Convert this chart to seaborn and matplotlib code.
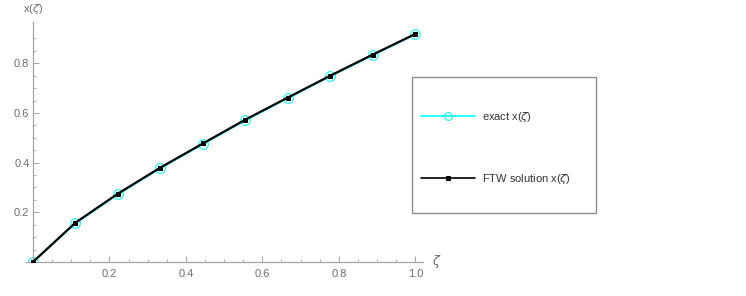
import matplotlib.pyplot as plt
import matplotlib.patches as mpatches
import numpy as np
import pandas as pd
import seaborn as sns

# values
zeta = [0.0, 1 / 9, 2 / 9, 3 / 9, 4 / 9, 5 / 9, 6 / 9, 7 / 9, 8 / 9, 1.0]
x_exact = [0.0, 0.155, 0.272, 0.377, 0.474, 0.570, 0.659, 0.748, 0.832, 0.916]
x_ftw = [0.0, 0.158, 0.275, 0.380, 0.477, 0.573, 0.662, 0.750, 0.835, 0.918]
x_ticks = [0.2, 0.4, 0.6, 0.8, 1.0]
y_ticks = [0.2, 0.4, 0.6, 0.8]

axis_grey = "#a6a6a6"
text_grey = "#6e6e6e"

sns.set_style("white")
plt.rcParams["font.family"] = ["Liberation Sans", "DejaVu Sans"]

fig = plt.figure(figsize=(7.46, 2.96), dpi=100)
ax = fig.add_axes([33 / 746 - 7 / 746, (296 - 262) / 296, 397 / 746, 240 / 296])

df = pd.DataFrame({"zeta": zeta, "exact": x_exact, "ftw": x_ftw})

sns.lineplot(
    data=df, x="zeta", y="exact", ax=ax, color="#00ffff", linewidth=1.2,
    marker="o", markersize=7, markerfacecolor="none", markeredgecolor="#33f0f0",
    markeredgewidth=0.9, label="exact x($\\zeta$)", zorder=2,
)
sns.lineplot(
    data=df, x="zeta", y="ftw", ax=ax, color="black", linewidth=1.6,
    marker="s", markersize=3.2, markeredgecolor="black",
    label="FTW solution x($\\zeta$)", zorder=3,
)

ax.set_xlim(-0.018, 1.02)
ax.set_ylim(0, 0.966)
ax.spines["left"].set_position(("data", 0))
ax.spines["right"].set_visible(False)
ax.spines["top"].set_visible(False)
for s in ("left", "bottom"):
    ax.spines[s].set_color(axis_grey)
    ax.spines[s].set_linewidth(0.9)

ax.set_xticks(x_ticks, labels=[f"{t:.1f}" for t in x_ticks])
ax.set_yticks(y_ticks, labels=[f"{t:.1f}" for t in y_ticks])
ax.set_xticks(np.arange(0.05, 1.01, 0.05), minor=True)
ax.set_yticks(np.arange(0.05, 0.95, 0.05), minor=True)
ax.tick_params(which="major", direction="in", length=4, width=0.8,
               color=axis_grey, labelcolor=text_grey, labelsize=8)
ax.tick_params(which="minor", direction="in", length=2.5, width=0.6,
               color=axis_grey)
ax.tick_params(axis="x", which="both", bottom=True, pad=5)
ax.tick_params(axis="y", which="both", left=True, pad=2.5)

ax.set_xlabel("")
ax.set_ylabel("")
fig.text(33 / 746, 1 - 9 / 296, "x($\\zeta$)", color=text_grey, fontsize=8,
         ha="center", va="center")
fig.text(437 / 746, 1 - 262 / 296, "$\\zeta$", color=text_grey, fontsize=9,
         ha="center", va="center")

# legend box
fig.patches.append(mpatches.Rectangle(
    (412 / 746, 1 - 213 / 296), 184 / 746, 136 / 296,
    transform=fig.transFigure, fill=False, edgecolor="#8c8c8c", linewidth=1.0,
))
leg = ax.legend(
    loc="upper left", bbox_to_anchor=(411 / 746, 1 - 100 / 296),
    bbox_transform=fig.transFigure, frameon=False, fontsize=8,
    handlelength=4.9, handletextpad=0.6, labelspacing=4.3, numpoints=1,
    labelcolor="#333333", markerscale=0.8,
)
for h in leg.legend_handles:
    h.set_linewidth(1.2)

fig.savefig("out.png", dpi=100)
